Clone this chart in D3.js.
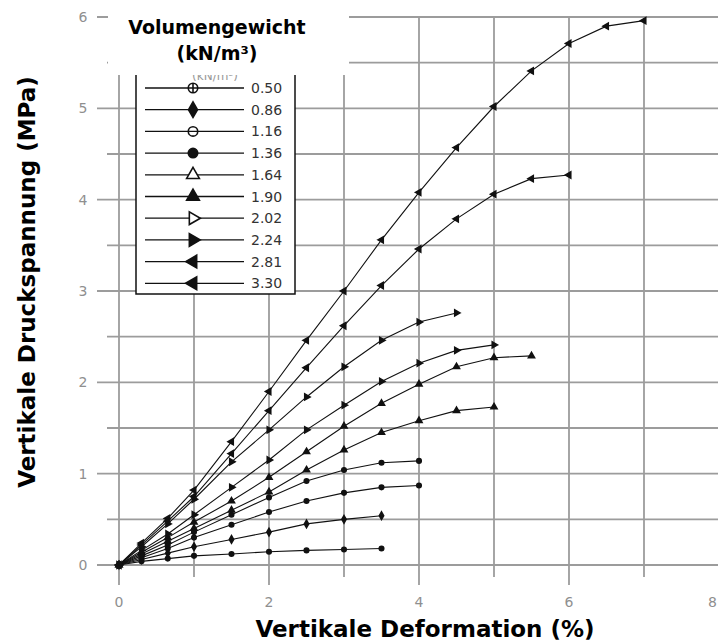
<!DOCTYPE html>
<html>
<head>
<meta charset="utf-8">
<script src="https://cdn.jsdelivr.net/npm/d3@7"></script>
<style>
  body { margin: 0; background: #fff; }
  .tickLabel { font-family: "DejaVu Sans", sans-serif; font-size: 14px; fill: #8f8f8f; }
  .axisTitle { font-family: "DejaVu Sans", sans-serif; font-weight: bold; font-size: 23px; fill: #000; }
  .legendTitle { font-family: "DejaVu Sans", sans-serif; font-weight: bold; font-size: 19px; fill: #000; }
  .legendText { font-family: "DejaVu Sans", sans-serif; font-size: 14px; fill: #333; }
</style>
</head>
<body>
<div id="chart"></div>
<script>
// Values
var deformation = [0, 0.3, 0.65, 1, 1.5, 2, 2.5, 3, 3.5, 4, 4.5, 5, 5.5, 6, 6.5, 7];

var densities = ["0.50", "0.86", "1.16", "1.36", "1.64", "1.90", "2.02", "2.24", "2.81", "3.30"];

var stress050 = [0, 0.04, 0.07, 0.1, 0.12, 0.145, 0.16, 0.17, 0.18];
var stress086 = [0, 0.06, 0.13, 0.2, 0.28, 0.36, 0.45, 0.5, 0.54];
var stress116 = [0, 0.08, 0.18, 0.3, 0.44, 0.58, 0.7, 0.79, 0.85, 0.87];
var stress136 = [0, 0.1, 0.22, 0.36, 0.55, 0.74, 0.92, 1.04, 1.12, 1.14];
var stress164 = [0, 0.12, 0.26, 0.4, 0.6, 0.8, 1.04, 1.26, 1.45, 1.58, 1.69, 1.73];
var stress190 = [0, 0.14, 0.3, 0.47, 0.7, 0.96, 1.24, 1.52, 1.77, 1.98, 2.17, 2.27, 2.29];
var stress202 = [0, 0.16, 0.34, 0.55, 0.85, 1.15, 1.48, 1.75, 2.01, 2.21, 2.35, 2.41];
var stress224 = [0, 0.2, 0.45, 0.72, 1.13, 1.48, 1.84, 2.17, 2.46, 2.66, 2.76];
var stress281 = [0, 0.22, 0.48, 0.75, 1.22, 1.69, 2.16, 2.62, 3.06, 3.46, 3.79, 4.06, 4.23, 4.27];
var stress330 = [0, 0.24, 0.51, 0.82, 1.35, 1.9, 2.46, 3.0, 3.56, 4.08, 4.57, 5.02, 5.41, 5.71, 5.9, 5.96];

var xTickLabels = ["0", "2", "4", "6", "8"];
var yTickLabels = ["0", "1", "2", "3", "4", "5", "6"];

var allStress = [stress050, stress086, stress116, stress136, stress164,
                 stress190, stress202, stress224, stress281, stress330];

// marker per series: shape + filled or open (legend)
var markerShapes = ["circlePlus", "diamond", "circle", "circle", "up", "up", "right", "right", "left", "left"];
var markerFilled = [false, true, false, true, false, true, false, true, true, true];

// Create svg canvas and margins
var svgWidth = 718;
var svgHeight = 642;

var margin = { top: 17, left: 119 };
var width = 600;
var height = 548;

var svg = d3.select("#chart")
    .append("svg")
    .attr("width", svgWidth)
    .attr("height", svgHeight);

var chartGroup = svg.append("g")
    .attr("transform", `translate(${margin.left}, ${margin.top})`);

var xScale = d3.scaleLinear().domain([0, 8]).range([0, width]);
var yScale = d3.scaleLinear().domain([0, 6]).range([height, 0]);

// Grid lines (they also act as the tick marks)
var gridColor = "#9c9c9c";

chartGroup.selectAll(".hgrid")
    .data(d3.range(0, 6.01, 0.5))
    .enter()
    .append("line")
    .attr("x1", d => d % 1 === 0 ? -22 : -12)
    .attr("x2", width)
    .attr("y1", d => yScale(d))
    .attr("y2", d => yScale(d))
    .attr("stroke", gridColor)
    .attr("stroke-width", 1.8);

chartGroup.selectAll(".vgrid")
    .data(d3.range(0, 9))
    .enter()
    .append("line")
    .attr("x1", d => xScale(d))
    .attr("x2", d => xScale(d))
    .attr("y1", 0)
    .attr("y2", d => height + (d % 2 === 0 ? 20 : 12))
    .attr("stroke", gridColor)
    .attr("stroke-width", 1.8);

// Tick labels ("8" sits on the right edge, so anchor it at its end)
chartGroup.selectAll(".xlab")
    .data(xTickLabels)
    .enter()
    .append("text")
    .attr("class", "tickLabel")
    .attr("x", d => d === "8" ? svgWidth - margin.left - 1 : xScale(+d))
    .attr("y", height + 42)
    .style("text-anchor", d => d === "8" ? "end" : "middle")
    .text(d => d);

chartGroup.selectAll(".ylab")
    .data(yTickLabels)
    .enter()
    .append("text")
    .attr("class", "tickLabel")
    .attr("x", -36)
    .attr("y", d => yScale(+d) + 5)
    .style("text-anchor", "middle")
    .text(d => d);

// Marker drawing
function drawMarker(g, shape, filled, size) {
    var fill = filled ? "#111" : "#fff";
    if (shape === "circlePlus") {
        var r = Math.sqrt(size / Math.PI);
        g.append("circle").attr("r", r)
            .attr("fill", filled ? "#111" : "none")
            .attr("stroke", "#111").attr("stroke-width", 1.6);
        if (!filled) {
            g.append("line").attr("y1", -r).attr("y2", r).attr("stroke", "#111").attr("stroke-width", 1.6);
        }
        return;
    }
    var type = d3.symbolTriangle;
    var rot = 0;
    if (shape === "diamond") type = d3.symbolDiamond;
    if (shape === "circle") type = d3.symbolCircle;
    if (shape === "right") rot = 90;
    if (shape === "left") rot = -90;
    var p = g.append("path")
        .attr("d", d3.symbol().type(type).size(size)())
        .attr("transform", `rotate(${rot})`)
        .attr("stroke", "#111")
        .attr("stroke-width", 1.6);
    if (shape === "circle" && !filled) {
        p.attr("fill", "none");
    } else {
        p.attr("fill", fill);
    }
}

// Curves
var line = d3.line()
    .x(d => xScale(d[0]))
    .y(d => yScale(d[1]));

allStress.forEach(function (stress, i) {
    var pts = stress.map((s, j) => [deformation[j], s]);

    chartGroup.append("path")
        .datum(pts)
        .attr("d", line)
        .attr("fill", "none")
        .attr("stroke", "#111")
        .attr("stroke-width", 1.1);

    chartGroup.selectAll(".m" + i)
        .data(pts)
        .enter()
        .append("g")
        .attr("transform", d => `translate(${xScale(d[0])}, ${yScale(d[1])})`)
        .each(function () {
            drawMarker(d3.select(this), markerShapes[i], true, 16);
        });
});

// Legend box
var legend = svg.append("g");

legend.append("rect")
    .attr("x", 136)
    .attr("y", 40)
    .attr("width", 159)
    .attr("height", 254)
    .attr("fill", "#fff")
    .attr("stroke", "#111")
    .attr("stroke-width", 1.5);

// original legend heading, mostly hidden under the new heading
legend.append("text")
    .attr("class", "legendText")
    .attr("x", 215)
    .attr("y", 80)
    .style("text-anchor", "middle")
    .style("fill", "#999")
    .style("font-size", "12px")
    .text("(kN/m³)");

var rowStart = 88;
var rowStep = 21.7;

densities.forEach(function (label, i) {
    var y = rowStart + i * rowStep;
    legend.append("line")
        .attr("x1", 145)
        .attr("x2", 244)
        .attr("y1", y)
        .attr("y2", y)
        .attr("stroke", "#111")
        .attr("stroke-width", 1.3);
    var mg = legend.append("g").attr("transform", `translate(193, ${y})`);
    drawMarker(mg, markerShapes[i], markerFilled[i], 70);
    legend.append("text")
        .attr("class", "legendText")
        .attr("x", 251)
        .attr("y", y + 5)
        .text(label);
});

// White heading block over the top of the legend
svg.append("rect")
    .attr("x", 108)
    .attr("y", 0)
    .attr("width", 241)
    .attr("height", 75)
    .attr("fill", "#fff");

svg.append("text")
    .attr("class", "legendTitle")
    .attr("x", 217)
    .attr("y", 34)
    .style("text-anchor", "middle")
    .text("Volumengewicht");

svg.append("text")
    .attr("class", "legendTitle")
    .attr("x", 217)
    .attr("y", 60)
    .style("text-anchor", "middle")
    .text("(kN/m³)");

// Axis titles
svg.append("text")
    .attr("class", "axisTitle")
    .attr("x", 425)
    .attr("y", 637)
    .style("text-anchor", "middle")
    .text("Vertikale Deformation (%)");

svg.append("text")
    .attr("class", "axisTitle")
    .attr("transform", "translate(35, 282) rotate(-90)")
    .style("text-anchor", "middle")
    .text("Vertikale Druckspannung (MPa)");
</script>
</body>
</html>
